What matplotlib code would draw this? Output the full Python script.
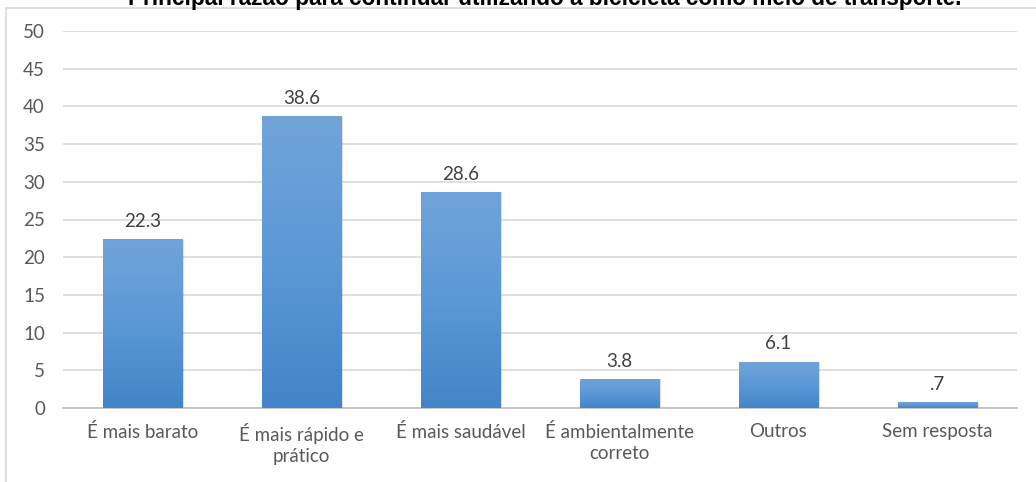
import matplotlib
matplotlib.use("Agg")
import matplotlib.pyplot as plt
import numpy as np
from matplotlib.colors import LinearSegmentedColormap
from matplotlib.patches import Rectangle

# data
categories = ['É mais barato', 'É mais rápido e\nprático', 'É mais saudável',
              'É ambientalmente\ncorreto', 'Outros', 'Sem resposta']
values = [22.3, 38.6, 28.6, 3.8, 6.1, 0.7]
value_labels = ['22.3', '38.6', '28.6', '3.8', '6.1', '.7']
y_ticks = [0, 5, 10, 15, 20, 25, 30, 35, 40, 45, 50]

title = 'Principal razão para continuar utilizando a bicicleta como meio de transporte.'

plt.rcParams['font.family'] = ['Lato', 'DejaVu Sans']

fig = plt.figure(figsize=(10.36, 4.82), dpi=100)
ax = fig.add_axes([63 / 1036, 1 - 408 / 482, (1017 - 63) / 1036, (408 - 31) / 482])

# chart frame (cut by the image edges like the original)
frame = Rectangle((6 / 1036, -0.1), 1.2, 1 - 7.5 / 482 + 0.1, transform=fig.transFigure,
                  fill=False, edgecolor='#d9d9d9', linewidth=1.2, zorder=0)
fig.patches.append(frame)

fig.text(545 / 1036, 1 - 4.5 / 482, title, ha='center', va='baseline',
         fontsize=16.3, fontweight='bold', family='Liberation Sans', color='black')

x = np.arange(len(categories))
bars = ax.bar(x, values, width=0.5, color='none', zorder=3)

cmap = LinearSegmentedColormap.from_list('bar', ['#4285c8', '#5b98d6', '#70a4d9'])
grad = np.linspace(0, 1, 256).reshape(-1, 1)
for b in bars:
    x0, y0 = b.get_x(), b.get_y()
    w, h = b.get_width(), b.get_height()
    # soft shadow on the right
    ax.add_patch(Rectangle((x0 + 0.012, y0), w, h, facecolor='#000000', alpha=0.12,
                           edgecolor='none', zorder=2))
    ax.imshow(grad, cmap=cmap, origin='lower', aspect='auto',
              extent=(x0, x0 + w, y0, y0 + h), zorder=3)

for xi, v, lab in zip(x, values, value_labels):
    ax.text(xi, v + 1.3, lab, ha='center', va='bottom', fontsize=13.5, color='#404040')

ax.set_xlim(-0.5, len(categories) - 0.5)
ax.set_ylim(0, 50)
ax.set_yticks(y_ticks)
ax.set_xticks(x)
ax.set_xticklabels(categories, fontsize=13.5, color='#595959', linespacing=1.3)
ax.tick_params(axis='y', labelsize=13.5, labelcolor='#595959', length=0, pad=13)
ax.tick_params(axis='x', length=0, pad=11)

ax.grid(axis='y', color='#d9d9d9', linewidth=1.2, zorder=0)
ax.set_axisbelow(True)
for s in ['top', 'right', 'left']:
    ax.spines[s].set_visible(False)
ax.spines['bottom'].set_color('#bfbfbf')
ax.spines['bottom'].set_linewidth(1.2)

fig.savefig('out.png', dpi=100, facecolor='white')
